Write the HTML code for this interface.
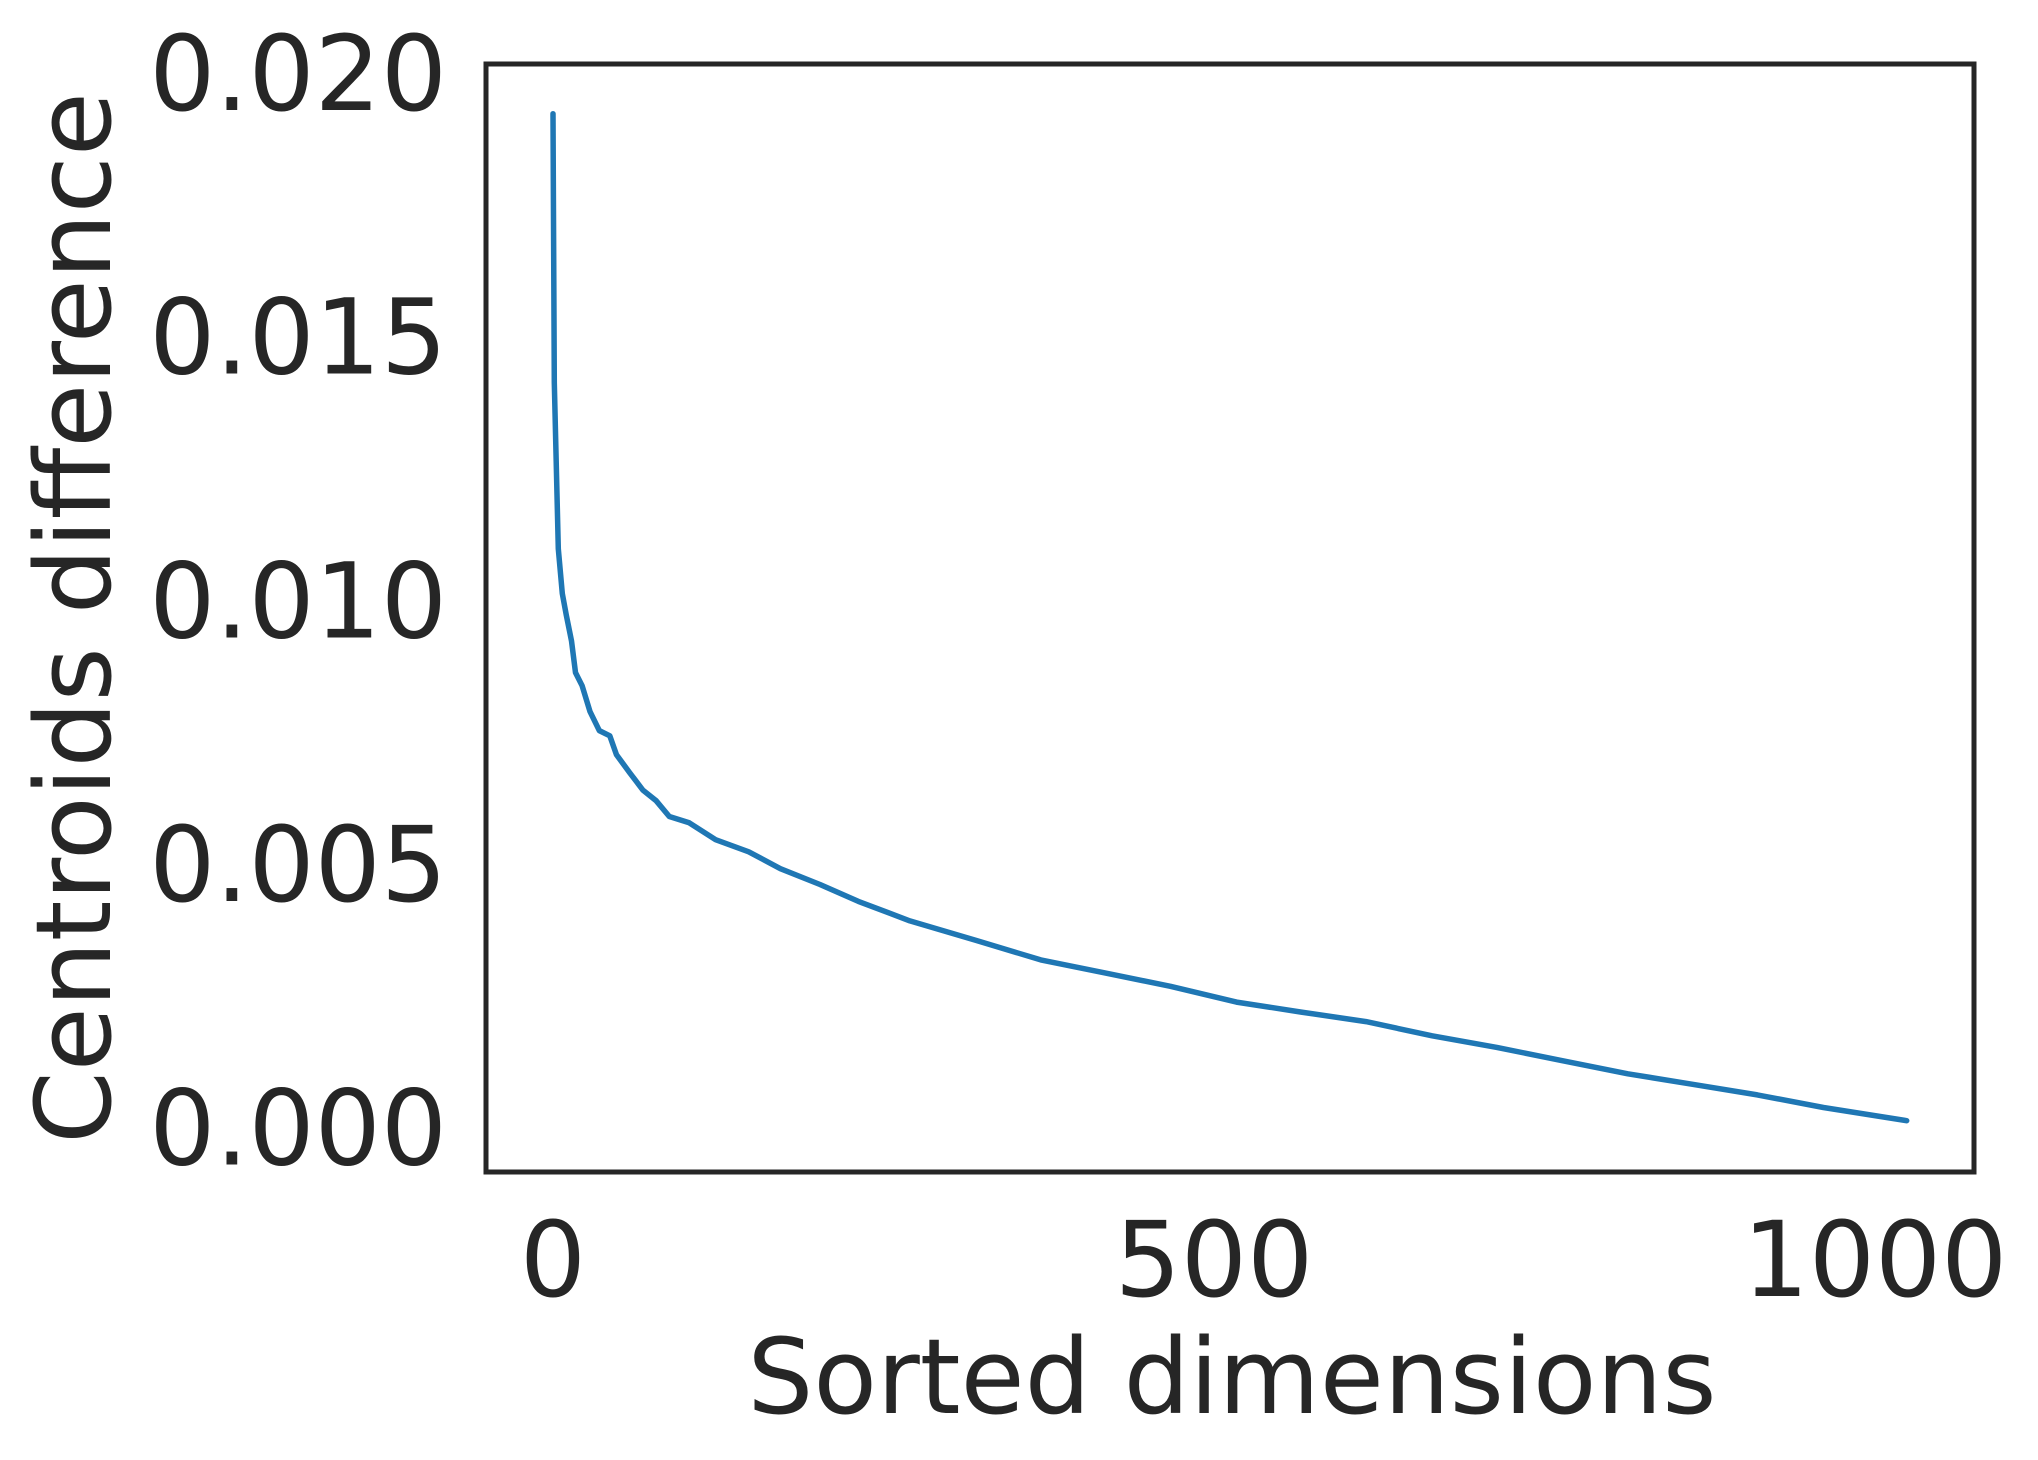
<!DOCTYPE html>
<html><head><meta charset="utf-8"><style>
html,body{margin:0;padding:0;background:#fff;}
svg{display:block;font-family:"DejaVu Sans","Liberation Sans",sans-serif;}
</style></head><body>
<svg id="chart" width="2038" height="1460" viewBox="0 0 2038 1460" xmlns="http://www.w3.org/2000/svg">
<rect width="2038" height="1460" fill="#fff"/>
<g id="plot"></g>
<rect x="486" y="64" width="1488" height="1108" fill="none" stroke="#262626" stroke-width="5"/>
<text transform="translate(110,618) rotate(-90)" text-anchor="middle" font-size="104" fill="#262626">Centroids difference</text>
<text x="1232" y="1413" text-anchor="middle" font-size="104" fill="#262626">Sorted dimensions</text>
<g id="yticks"></g><g id="xticks"></g>
</svg>
<script>
const dims = [0,1,4,7,10,14,17,22,28,35,43,48,58,68,78,88,103,123,148,172,202,231,270,320,369,418,467,517,566,615,665,714,763,813,862,911,961,1024];
const diffs = [0.0192,0.0141,0.01095,0.0101,0.0097,0.0092,0.0086,0.00835,0.00786,0.0075,0.0074,0.00704,0.0067,0.00637,0.00617,0.00587,0.00575,0.00543,0.0052,0.00488,0.00458,0.00426,0.00389,0.00352,0.00315,0.0029,0.00265,0.00235,0.00216,0.00198,0.00171,0.00149,0.00124,0.00099,0.00079,0.00059,0.00035,0.0001];
const yTicks = [0,0.005,0.01,0.015,0.02];
const yTickLabels = ["0.000","0.005","0.010","0.015","0.020"];
const xTicks = [0,500,1000];
const xTickLabels = ["0","500","1000"];
const NS="http://www.w3.org/2000/svg";
function xs(v){return 553+v*1.322;}
function ys(v){return 1126-v*52725;}
const plot=document.getElementById('plot');
const pts=dims.map((d,i)=>xs(d).toFixed(1)+','+ys(diffs[i]).toFixed(1)).join(' ');
const line=document.createElementNS(NS,'polyline');
line.setAttribute('points',pts);
line.setAttribute('fill','none');
line.setAttribute('stroke','#1f77b4');
line.setAttribute('stroke-width','5.5');
line.setAttribute('stroke-linejoin','round');
line.setAttribute('stroke-linecap','round');


plot.appendChild(line);
const yg=document.getElementById('yticks');
yTicks.forEach((t,i)=>{
  const tx=document.createElementNS(NS,'text');
  tx.setAttribute('x',447);tx.setAttribute('y',ys(t)+38.5);
  tx.setAttribute('text-anchor','end');tx.setAttribute('font-size','104');tx.setAttribute('fill','#262626');
  tx.textContent=yTickLabels[i];
  
  
  yg.appendChild(tx);
});
const xg=document.getElementById('xticks');
xTicks.forEach((t,i)=>{
  const tx=document.createElementNS(NS,'text');
  tx.setAttribute('x',xs(t));tx.setAttribute('y',1296);
  tx.setAttribute('text-anchor','middle');tx.setAttribute('font-size','104');tx.setAttribute('fill','#262626');
  tx.textContent=xTickLabels[i];
  
  
  xg.appendChild(tx);
});
</script>
</body></html>
